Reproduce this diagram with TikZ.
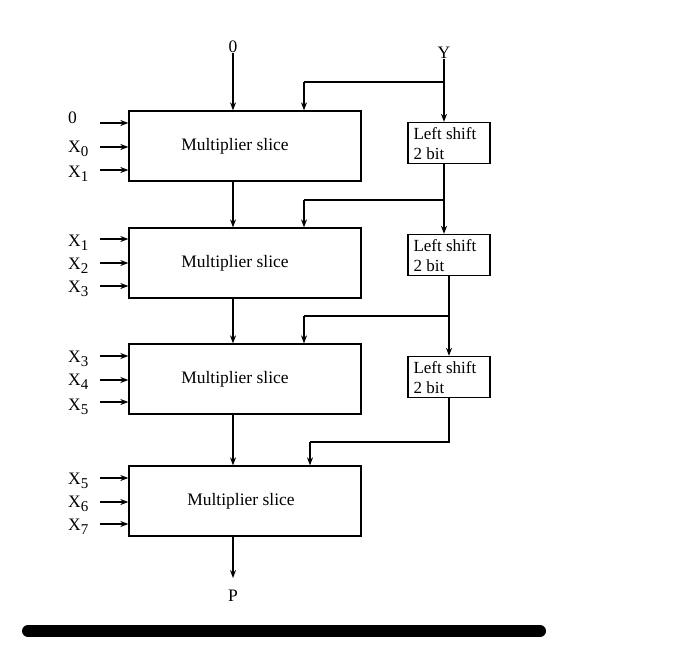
\documentclass[tikz,border=0pt]{standalone}
\usepackage{fontspec}
\setmainfont{Liberation Serif}
\usetikzlibrary{arrows.meta}
\newcommand\xsub[1]{\raisebox{-0.5ex}{\fontsize{15}{15}\selectfont #1}}
\begin{document}
\begin{tikzpicture}[x=1pt,y=-1pt,
  every node/.style={font=\fontsize{17.5}{19}\selectfont},
  mult/.style={draw,line width=1.3pt,minimum width=232pt,minimum height=70pt,inner sep=0pt},
  shiftbox/.style={draw,line width=1.3pt,minimum width=82pt,minimum height=41pt,inner sep=0pt},
  lbl/.style={inner sep=0pt},
  wire/.style={line width=1.3pt},
  arr/.style={line width=1.3pt,-{Stealth[length=8pt,width=6pt]}}]
\useasboundingbox (0,0) rectangle (700,658);
% multiplier slices
\node[mult] (m1) at (245,146) {};
\node[mult] (m2) at (245,263) {};
\node[mult] (m3) at (245,379) {};
\node[mult] (m4) at (245,501) {};
\node[lbl] (t1) at ([xshift=-10pt]m1.center) {Multiplier slice};
\node[lbl] (t2) at ([xshift=-10pt]m2.center) {Multiplier slice};
\node[lbl] (t3) at ([xshift=-10pt]m3.center) {Multiplier slice};
\node[lbl] (t4) at ([xshift=-4pt]m4.center) {Multiplier slice};
% shift boxes
\node[shiftbox] (s1) at (449,143) {};
\node[shiftbox] (s2) at (449,255) {};
\node[shiftbox] (s3) at (449,377) {};
\foreach \s in {s1,s2,s3}{
  \node[lbl,anchor=north west,align=left,font=\fontsize{17}{20}\selectfont] at ([xshift=6pt,yshift=-5pt]\s.north west) {Left shift\\2 bit};
}
% top labels
\node[lbl] (z0) at (233,47) {0};
\node[lbl] (yy) at (444,53) {Y};
\node[lbl] (pp) at (233,596) {P};
% Y path
\coordinate (j1) at (444,82);
\coordinate (b1) at (304,82);
\draw[arr] (yy.south) -- (s1.north -| yy.south);
\draw[wire] (j1) -- (b1);
\draw[arr] (b1) -- (b1 |- m1.north);
\draw[arr] (z0.south) -- (m1.north -| z0.south);
% shift 1 -> shift 2
\coordinate (j2) at (444,200);
\coordinate (b2) at (304,200);
\draw[arr] (s1.south -| j2) -- (s2.north -| j2);
\draw[wire] (j2) -- (b2);
\draw[arr] (b2) -- (b2 |- m2.north);
% shift 2 -> shift 3
\coordinate (j3) at (449,316);
\coordinate (b3) at (304,316);
\draw[arr] (s2.south -| j3) -- (s3.north -| j3);
\draw[wire] (j3) -- (b3);
\draw[arr] (b3) -- (b3 |- m3.north);
% shift 3 -> slice 4
\coordinate (j4) at (449,442);
\coordinate (b4) at (310,442);
\draw[wire] (s3.south -| j4) -- (j4) -- (b4);
\draw[arr] (b4) -- (b4 |- m4.north);
% vertical chain
\draw[arr] (m1.south -| z0) -- (m2.north -| z0);
\draw[arr] (m2.south -| z0) -- (m3.north -| z0);
\draw[arr] (m3.south -| z0) -- (m4.north -| z0);
\coordinate (pend) at (233,578);
\draw[arr] (m4.south -| z0) -- (pend);
% left inputs
\foreach \name/\y/\ly/\txt/\m in {
  a1/123/118/0/m1, a2/147/149/X\xsub{0}/m1, a3/170/174/X\xsub{1}/m1,
  b1/239/243/X\xsub{1}/m2, b2/263/266/X\xsub{2}/m2, b3/286/289/X\xsub{3}/m2,
  c1/356/359/X\xsub{3}/m3, c2/380/382/X\xsub{4}/m3, c3/402/407/X\xsub{5}/m3,
  d1/478/481/X\xsub{5}/m4, d2/502/504/X\xsub{6}/m4, d3/524/527/X\xsub{7}/m4}{
  \node[lbl,anchor=west] (l\name) at (68,\ly) {\txt};
  \coordinate (s\name) at (100,\y);
  \draw[arr] (s\name) -- (\m.west |- s\name);
}
% bottom bar
\draw[line width=12pt,line cap=round] (28,631) -- (540,631);
\end{tikzpicture}
\end{document}
